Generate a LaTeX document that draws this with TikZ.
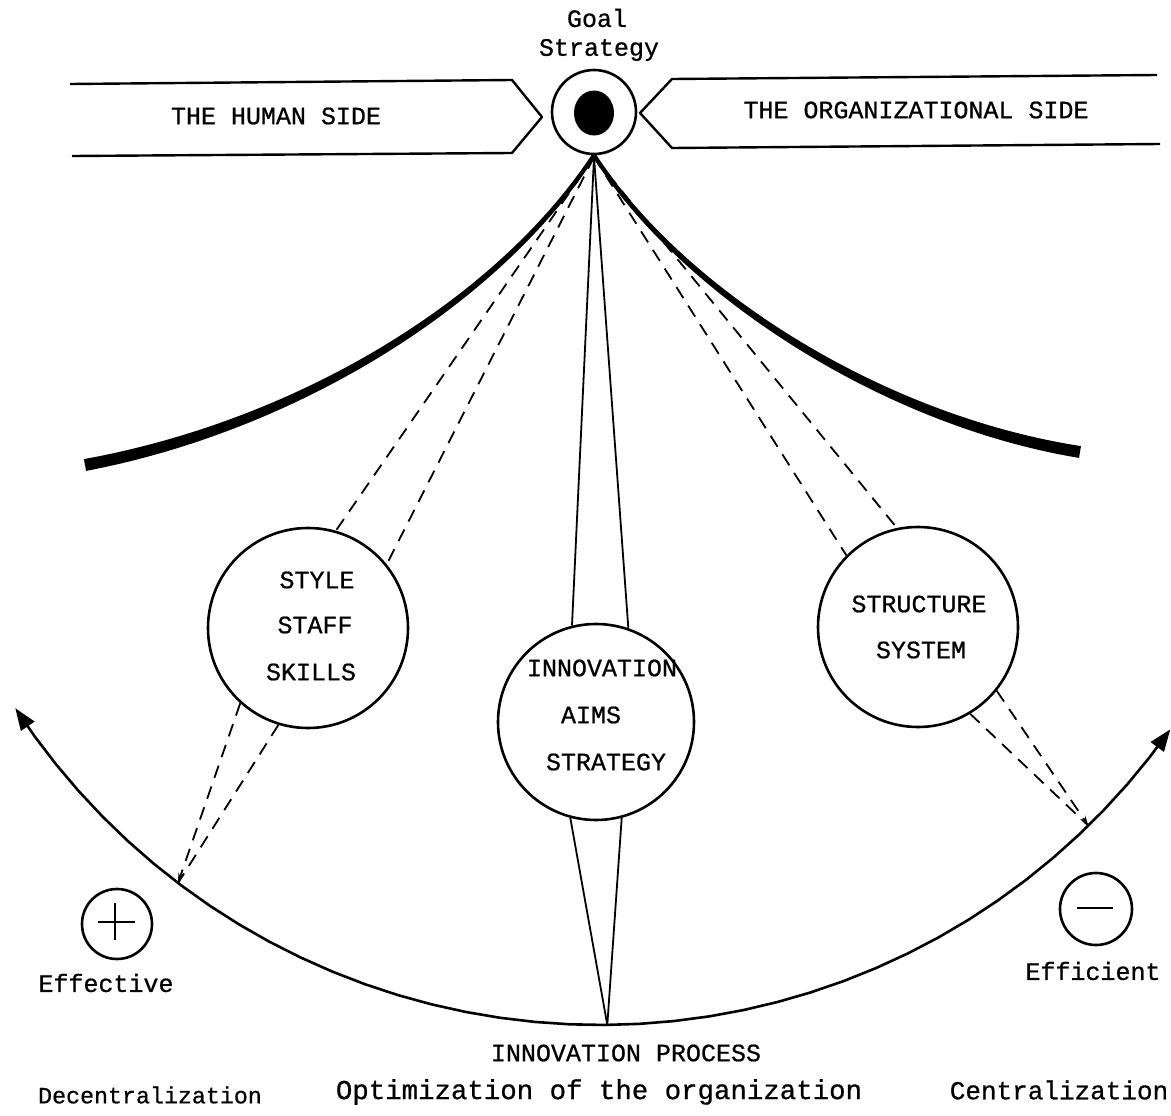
\documentclass[tikz,border=0pt]{standalone}
\usepackage{fontspec}
\setmainfont{Liberation Mono}[UprightFeatures={FakeBold=0.7}]
\usetikzlibrary{arrows.meta,shapes.geometric}
\begin{document}
\begin{tikzpicture}[x=1pt,y=-1pt,
  lbl/.style={font=\fontsize{25}{27}\selectfont, inner sep=0pt, anchor=center},
  banner/.style={line width=2.4pt, line join=round},
  ring/.style={circle, draw, line width=2.6pt, inner sep=0pt},
  solidray/.style={line width=1.8pt},
  dashray/.style={line width=1.8pt, dash pattern=on 13pt off 9pt},
  tipray/.style={dashray, -{Stealth[length=10pt,width=6pt]}},
  arcline/.style={line width=2.6pt,
    {Triangle[length=22pt,width=16pt]}-{Triangle[length=22pt,width=16pt]}},
  ]
\fill[white] (0,0) rectangle (1171,1116);
\useasboundingbox (0,0) rectangle (1171,1116);

% goal at the top
\node[lbl] (goaltxt) at (597,18) {Goal};
\node[lbl] (strattxt) at (599,50) {Strategy};
\node[ring, minimum size=84pt] (goal) at (594,112) {};
\node[ellipse, fill, minimum width=40pt, minimum height=45pt, inner sep=0pt] (bull) at (594,113) {};
\coordinate (apex) at (594,157);

% the two side banners
\draw[banner] (70,84) -- (512,80) -- (542,117) -- (512,153) -- (72,156);
\draw[banner] (1157,75) -- (672,79) -- (640,113) -- (672,148) -- (1160,144);
\node[lbl] (human) at (276,116) {THE HUMAN SIDE};
\node[lbl] (organ) at (916,110) {THE ORGANIZATIONAL SIDE};

% thick tapered wings
\fill (86.1,470.9) .. controls (300.9,429.9) and (502.5,301.6) .. (595.7,156.1)
  -- (592.3,153.9) .. controls (497.5,298.4) and (299.1,420.1) .. (83.9,459.1) -- cycle;
\fill (592.3,156.1) .. controls (677.5,291.6) and (879.2,424.9) .. (1079.05,457.9)
  -- (1080.95,446.1) .. controls (880.8,415.1) and (682.5,288.4) .. (595.7,153.9) -- cycle;

% the three circles
\node[ring, minimum size=200pt] (hum) at (308,628) {};
\node[ring, minimum size=196pt] (mid) at (596,722) {};
\node[ring, minimum size=200pt] (org) at (918,627) {};

\node[lbl] (t1) at (317,580) {STYLE};
\node[lbl] (t2) at (315,625) {STAFF};
\node[lbl] (t3) at (311,672) {SKILLS};
\node[lbl] (m1) at (602,668) {INNOVATION};
\node[lbl] (m2) at (591,715) {AIMS};
\node[lbl] (m3) at (606,762) {STRATEGY};
\node[lbl] (o1) at (919,604) {STRUCTURE};
\node[lbl] (o2) at (921,650) {SYSTEM};

% bottom arc
\draw[arcline] plot[domain=146.9:35.2, samples=40] ({600+698*cos(\x)},{327+698*sin(\x)});
\path (600,327) ++(127.2:698) coordinate (effpt);
\path (600,327) ++(89.4:698) coordinate (procpt);
\path (600,327) ++(45.6:698) coordinate (ficpt);

% rays from the goal to the circles
\draw[dashray] (apex) -- (hum.74.6);
\draw[dashray] (apex) -- (hum.39.9);
\draw[solidray] (apex) -- (mid.104);
\draw[solidray] (apex) -- (mid.71.6);
\draw[dashray] (apex) -- (org.135.4);
\draw[dashray] (apex) -- (org.102);

% rays from the circles to the arc
\draw[tipray] (hum.228) -- (effpt);
\draw[dashray] (hum.253.6) -- (effpt);
\draw[solidray] (mid.255) -- (procpt);
\draw[solidray] (mid.285) -- (procpt);
\draw[dashray] (org.301) -- (ficpt);
\draw[tipray] (org.321.6) -- (ficpt);

% plus and minus marks
\node[ring, minimum size=70pt] (plus) at (117,924) {};
\draw[line width=2.4pt] (98,922) -- (135,922) (115,903) -- (115,940);
\node[ring, minimum size=72pt] (minus) at (1096,909) {};
\draw[line width=2.8pt] (1077,908) -- (1113,908);
\node[lbl] (eff) at (106,983) {Effective};
\node[lbl] (fic) at (1093,971) {Efficient};

% bottom captions
\node[lbl] (proc) at (626,1053) {INNOVATION PROCESS};
\node[lbl, font=\fontsize{23.3}{25}\selectfont] (dec) at (150,1095) {Decentralization};
\node[lbl, font=\fontsize{27.4}{29}\selectfont] (opt) at (599,1092) {Optimization of the organization};
\node[lbl, font=\fontsize{26}{28}\selectfont] (cen) at (1059,1090) {Centralization};
\end{tikzpicture}
\end{document}
